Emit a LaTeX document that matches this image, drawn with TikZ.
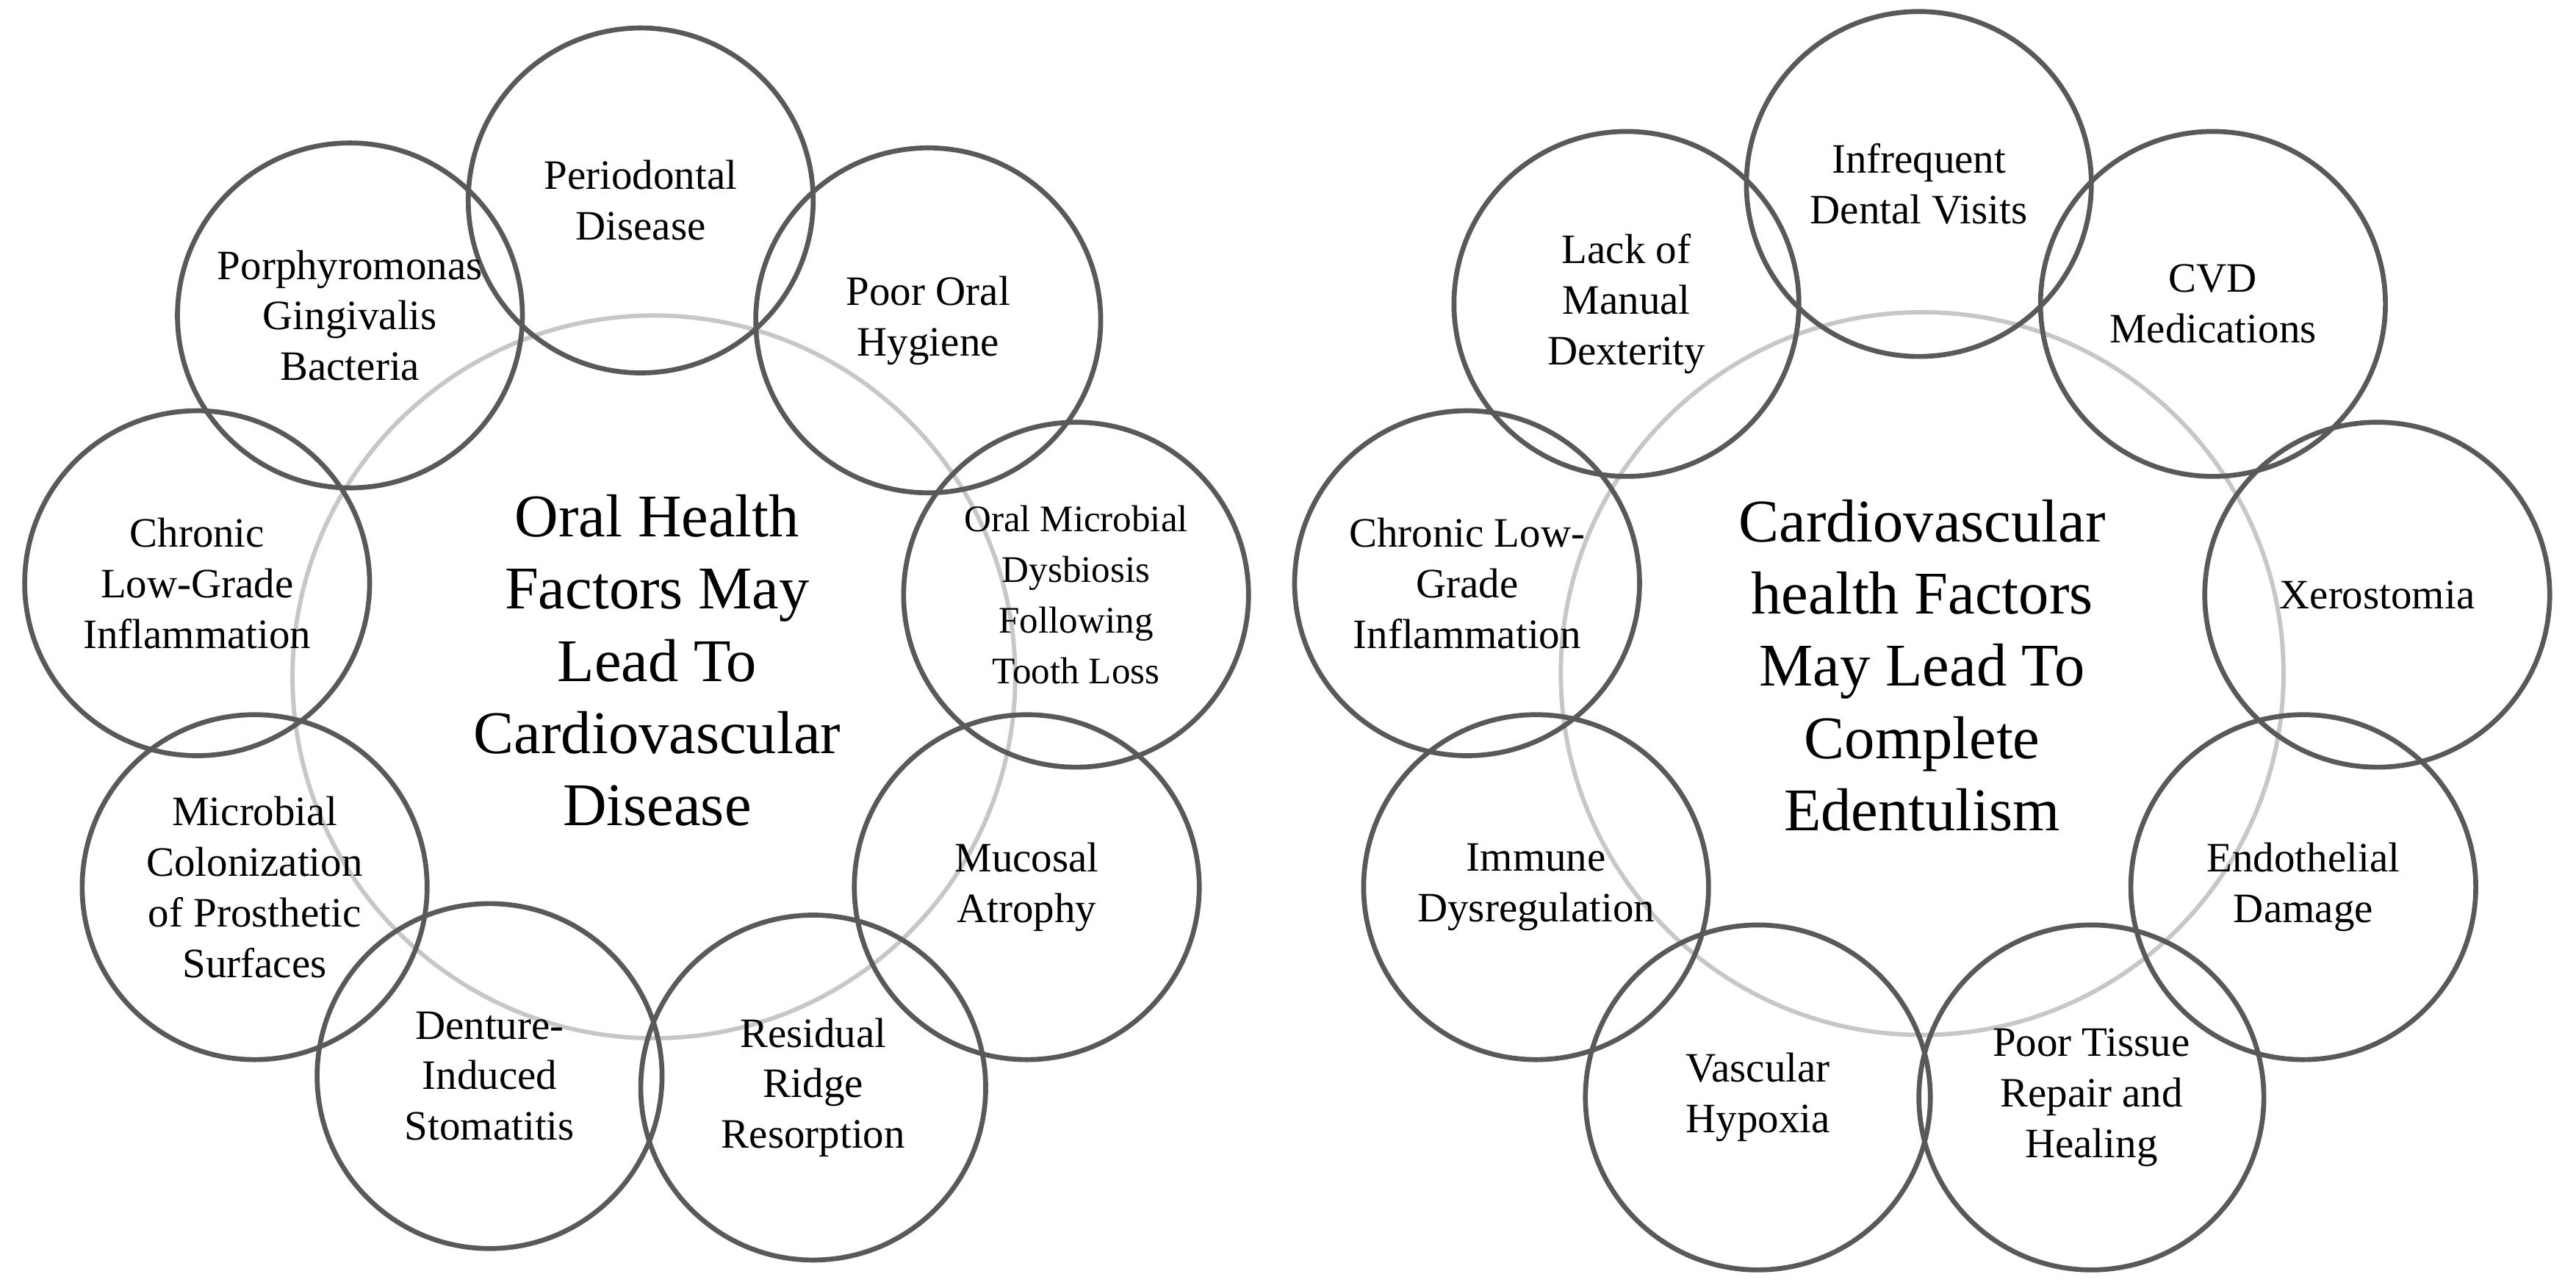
\documentclass[tikz,border=0pt]{standalone}
\usepackage{fontspec}
\setmainfont{Liberation Serif}
\begin{document}
\begin{tikzpicture}[x=0.02cm,y=-0.02cm,
  hub/.style={circle,draw=black!22,line width=1.5pt,minimum size=8.8cm,align=center,font=\fontsize{21}{25}\selectfont},
  factor/.style={circle,draw=black!65,line width=1.7pt,minimum size=4.2cm,align=center,inner sep=0pt,font=\fontsize{14.5}{17.5}\selectfont}]
\useasboundingbox (0,0) rectangle (1568,784);

% Left diagram: oral health factors
\node[hub] (oralhub) at (398,412) {};
\node[factor] (perio) at (390,122) {Periodontal\\Disease};
\node[factor] (hygiene) at (565,195) {Poor Oral\\Hygiene};
\node[factor] (dysbiosis) at (655,362) {\fontsize{13}{16}\selectfont Oral Microbial\\\fontsize{13}{16}\selectfont Dysbiosis\\\fontsize{13}{16}\selectfont Following\\\fontsize{13}{16}\selectfont Tooth Loss};
\node[factor] (atrophy) at (625,540) {Mucosal\\Atrophy};
\node[factor] (ridge) at (495,662) {Residual\\Ridge\\Resorption};
\node[factor] (stomatitis) at (298,655) {Denture-\\Induced\\Stomatitis};
\node[factor] (colonization) at (155,540) {Microbial\\Colonization\\of Prosthetic\\Surfaces};
\node[factor] (inflamL) at (120,355) {Chronic\\Low-Grade\\Inflammation};
\node[factor] (gingivalis) at (213,192) {Porphyromonas\\Gingivalis\\Bacteria};
\node[font=\fontsize{21}{25}\selectfont,align=center] (oraltitle) at (400,402)
  {Oral Health\\Factors May\\Lead To\\Cardiovascular\\Disease};

% Right diagram: cardiovascular health factors
\node[hub] (cvdhub) at (1170,410) {};
\node[factor] (visits) at (1168,112) {Infrequent\\Dental Visits};
\node[factor] (meds) at (1347,185) {CVD\\Medications};
\node[factor] (xero) at (1447,362) {Xerostomia};
\node[factor] (endo) at (1402,540) {Endothelial\\Damage};
\node[factor] (repair) at (1273,668) {Poor Tissue\\Repair and\\Healing};
\node[factor] (hypoxia) at (1070,668) {Vascular\\Hypoxia};
\node[factor] (immune) at (935,540) {Immune\\Dysregulation};
\node[factor] (inflamR) at (893,355) {Chronic Low-\\Grade\\Inflammation};
\node[factor] (dexterity) at (990,185) {Lack of\\Manual\\Dexterity};
\node[font=\fontsize{21}{25}\selectfont,align=center] (cvdtitle) at (1170,405)
  {Cardiovascular\\health Factors\\May Lead To\\Complete\\Edentulism};
\end{tikzpicture}
\end{document}
